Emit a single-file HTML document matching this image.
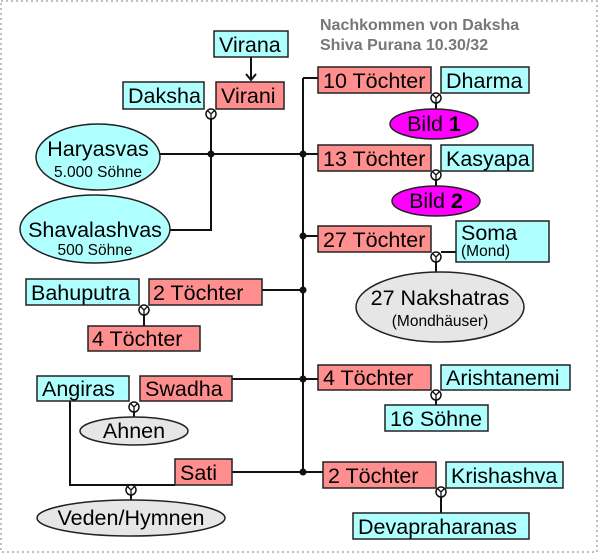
<!DOCTYPE html>
<html><head><meta charset="utf-8"><style>
html,body{margin:0;padding:0;background:#fff;}
svg{display:block;font-family:"Liberation Sans",sans-serif;}
.c{fill:#b0ffff;stroke:#222;stroke-width:1.5}
.p{fill:#ff8f8f;stroke:#222;stroke-width:1.5}
.g{fill:#e6e6e6;stroke:#222;stroke-width:1.5}
.m{fill:#ff00ff;stroke:#222;stroke-width:1.5}
.l{stroke:#111;stroke-width:2;fill:none}
text{font-size:21.5px;fill:#000}
.s{font-size:15.5px}
</style></head><body>
<svg width="601" height="555" viewBox="0 0 601 555" xmlns="http://www.w3.org/2000/svg">
<defs>
<g id="mr"><circle cx="0" cy="0" r="5" fill="#fff" stroke="#111" stroke-width="1.5"/><path d="M-3,-3 L0,0 L3,-3 M0,0 L0,5" stroke="#111" stroke-width="1.3" fill="none"/></g>
</defs>
<rect x="1" y="1" width="596" height="551" fill="none" stroke="#aaa" stroke-width="1.5" stroke-dasharray="2,3"/>
<text x="320" y="30" style="font-size:16px;font-weight:bold;fill:#777">Nachkommen von Daksha</text>
<text x="320" y="50" style="font-size:16px;font-weight:bold;fill:#777">Shiva Purana 10.30/32</text>

<path class="l" d="M303,78 V472 M303,78 H318 M251,57 V80 M246,74 L251,80 L256,74 M211,114 V230 H170 M160,154 H318 M303,236 H318 M262,290 H303 M144,310 V326 M232,379 H318 M134,407 V417 M232,472 H323 M70,401 V485 H175 M131,490 V500 M436,98 V109 M436,175 V186 M436,257 V272 M441,252 H456 M436,395 V405 M441,492 V513"/>
<g fill="#111"><circle cx="211" cy="154" r="3.5"/><circle cx="303" cy="154" r="3.5"/><circle cx="303" cy="236" r="3.5"/><circle cx="303" cy="290" r="3.5"/><circle cx="303" cy="379" r="3.5"/><circle cx="303" cy="472" r="3.5"/></g>

<rect class="c" x="214" y="31" width="74" height="26"/><text x="219" y="52">Virana</text>
<rect class="c" x="123" y="82" width="81" height="27"/><text x="128" y="103">Daksha</text>
<rect class="p" x="216" y="82" width="68" height="27"/><text x="221" y="103">Virani</text>
<use href="#mr" x="211" y="114"/>
<ellipse class="c" cx="98" cy="157" rx="62" ry="33"/><text x="98" y="156" text-anchor="middle">Haryasvas</text><text class="s" x="98" y="177" text-anchor="middle">5.000 Söhne</text>
<ellipse class="c" cx="95" cy="229" rx="75" ry="34"/><text x="95" y="237" text-anchor="middle">Shavalashvas</text><text class="s" x="95" y="255" text-anchor="middle">500 Söhne</text>

<rect class="p" x="318" y="67" width="113" height="26"/><text x="323" y="88">10 Töchter</text>
<rect class="c" x="441" y="67" width="88" height="26"/><text x="446" y="88">Dharma</text>
<use href="#mr" x="436" y="98"/>
<ellipse class="m" cx="434" cy="124" rx="44" ry="15"/><text x="434" y="131" text-anchor="middle">Bild <tspan font-weight="bold">1</tspan></text>

<rect class="p" x="318" y="145" width="113" height="26"/><text x="323" y="166">13 Töchter</text>
<rect class="c" x="441" y="145" width="92" height="26"/><text x="446" y="166">Kasyapa</text>
<use href="#mr" x="436" y="175"/>
<ellipse class="m" cx="436" cy="201" rx="44" ry="15"/><text x="436" y="208" text-anchor="middle">Bild <tspan font-weight="bold">2</tspan></text>

<rect class="p" x="318" y="226" width="113" height="26"/><text x="323" y="247">27 Töchter</text>
<rect class="c" x="456" y="221" width="93" height="41"/><text x="461" y="240">Soma</text><text class="s" x="461" y="256">(Mond)</text>
<use href="#mr" x="436" y="257"/>
<ellipse class="g" cx="440" cy="307" rx="84" ry="35"/><text x="440" y="305" text-anchor="middle">27 Nakshatras</text><text class="s" x="440" y="326" text-anchor="middle">(Mondhäuser)</text>

<rect class="p" x="318" y="365" width="113" height="25"/><text x="323" y="385">4 Töchter</text>
<rect class="c" x="441" y="365" width="129" height="25"/><text x="446" y="385">Arishtanemi</text>
<use href="#mr" x="436" y="395"/>
<rect class="c" x="385" y="405" width="103" height="26"/><text x="390" y="426">16 Söhne</text>

<rect class="p" x="323" y="462" width="113" height="26"/><text x="328" y="483">2 Töchter</text>
<rect class="c" x="446" y="462" width="117" height="26"/><text x="451" y="483">Krishashva</text>
<use href="#mr" x="441" y="492"/>
<rect class="c" x="353" y="513" width="176" height="26"/><text x="358" y="534">Devapraharanas</text>

<rect class="c" x="26" y="279" width="113" height="26"/><text x="31" y="300">Bahuputra</text>
<rect class="p" x="149" y="279" width="113" height="26"/><text x="153" y="300">2 Töchter</text>
<use href="#mr" x="144" y="310"/>
<rect class="p" x="88" y="326" width="112" height="25"/><text x="92" y="346">4 Töchter</text>

<rect class="c" x="37" y="376" width="92" height="25"/><text x="42" y="396">Angiras</text>
<rect class="p" x="140" y="376" width="92" height="25"/><text x="145" y="396">Swadha</text>
<use href="#mr" x="134" y="407"/>
<ellipse class="g" cx="134" cy="431" rx="54" ry="14"/><text x="134" y="438" text-anchor="middle">Ahnen</text>

<rect class="p" x="175" y="459" width="57" height="26"/><text x="180" y="480">Sati</text>
<use href="#mr" x="131" y="490"/>
<ellipse class="g" cx="131" cy="518" rx="94" ry="18"/><text x="131" y="525" text-anchor="middle">Veden/Hymnen</text>
</svg>
</body></html>
